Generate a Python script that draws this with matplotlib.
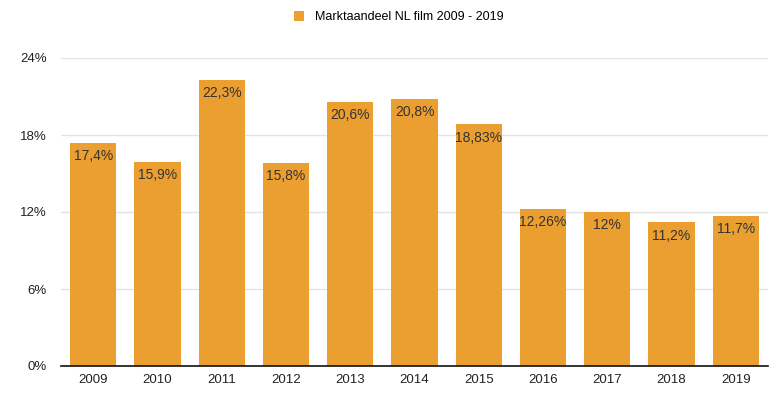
import matplotlib.pyplot as plt
from matplotlib.ticker import FuncFormatter

plt.rcParams['font.family'] = ['Liberation Sans', 'DejaVu Sans']

years = ['2009', '2010', '2011', '2012', '2013', '2014', '2015', '2016', '2017', '2018', '2019']
share = [17.4, 15.9, 22.3, 15.8, 20.6, 20.8, 18.83, 12.26, 12, 11.2, 11.7]
yticks = [0, 6, 12, 18, 24]
series_name = "Marktaandeel NL film 2009 - 2019"

bar_color = '#EC9F31'

fig = plt.figure(figsize=(7.81, 3.93), dpi=100)
ax = fig.add_axes([61 / 781, 27 / 393, 707 / 781, 308 / 393])

x = range(len(years))
bars = ax.bar(x, share, width=0.72, color=bar_color, label=series_name, zorder=2)

for xi, v in zip(x, share):
    label = f"{v:g}".replace('.', ',') + '%'
    ax.annotate(label, (xi, v), xytext=(0, -4.5), textcoords='offset points',
                ha='center', va='top', fontsize=10, color='#333333', zorder=3)

ax.set_xlim(-0.5, len(years) - 0.5)
ax.set_ylim(0, 24)
ax.set_yticks(yticks)
ax.yaxis.set_major_formatter(FuncFormatter(lambda v, p: f"{v:g}%"))
ax.set_xticks(list(x))
ax.set_xticklabels(years)
ax.grid(axis='y', color='#e3e3e3', linewidth=1, zorder=0)
ax.tick_params(axis='both', length=0, labelsize=9.5, colors='#222222')
ax.tick_params(axis='y', pad=10)
ax.tick_params(axis='x', pad=6)
for s in ['left', 'right', 'top']:
    ax.spines[s].set_visible(False)
ax.spines['bottom'].set_color('#111111')
ax.spines['bottom'].set_linewidth(1.2)

fig.legend(handles=[bars], labels=[series_name], loc='upper center',
           bbox_to_anchor=(0.511, 1.0), frameon=False, fontsize=9,
           handlelength=0.8, handleheight=0.8, handletextpad=0.9)

fig.savefig('out.png', dpi=100)
